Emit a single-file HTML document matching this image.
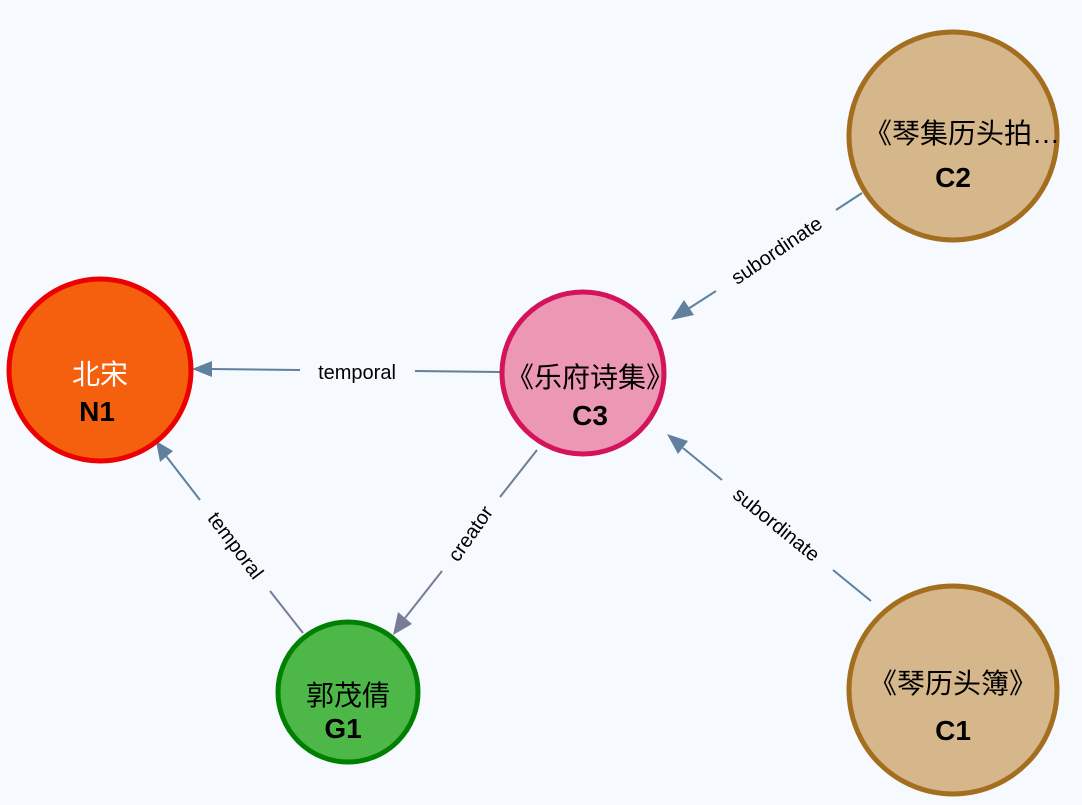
<!DOCTYPE html>
<html><head><meta charset="utf-8">
<style>
html,body{margin:0;padding:0;background:#f6fafe;}
svg{display:block;}
text{font-family:"Liberation Sans","Noto Sans CJK SC",sans-serif;}
</style></head>
<body>
<svg width="1082" height="805" viewBox="0 0 1082 805" xmlns="http://www.w3.org/2000/svg">
<rect width="1082" height="805" fill="#f6fafe"/>
<g stroke-width="2" fill="none">
<line x1="500" y1="372" x2="415" y2="371" stroke="#60809e"/>
<line x1="300" y1="370" x2="212" y2="369" stroke="#60809e"/>
<path d="M212,361 L192,369 L212,377 z" fill="#60809e" stroke="none"/>
<line x1="862" y1="193" x2="836" y2="210" stroke="#60809e"/>
<line x1="716" y1="291" x2="688" y2="309" stroke="#60809e"/>
<path d="M684,300 L671,320 L694,315 z" fill="#60809e" stroke="none"/>
<line x1="871" y1="601" x2="833" y2="570" stroke="#60809e"/>
<line x1="722" y1="480" x2="683" y2="448" stroke="#60809e"/>
<path d="M688,441 L667,434 L678,454 z" fill="#60809e" stroke="none"/>
<line x1="537" y1="450" x2="500" y2="497" stroke="#6c7f90"/>
<line x1="442" y1="571" x2="405" y2="618" stroke="#787c98"/>
<path d="M398,612 L393,635 L412,624 z" fill="#787c98" stroke="none"/>
<line x1="303" y1="633" x2="270" y2="591" stroke="#787c98"/>
<line x1="200" y1="500" x2="166" y2="456" stroke="#60809e"/>
<path d="M160,462 L156,441 L173,451 z" fill="#60809e" stroke="none"/>
</g>
<g font-size="20" fill="#000">
<text x="357" y="379" text-anchor="middle">temporal</text>
<text transform="translate(777,251) rotate(-34)" text-anchor="middle" dy="6">subordinate</text>
<text transform="translate(776,525) rotate(39)" text-anchor="middle" dy="6">subordinate</text>
<text transform="translate(471,534) rotate(-55)" text-anchor="middle" dy="6">creator</text>
<text transform="translate(235,546) rotate(53)" text-anchor="middle" dy="6">temporal</text>
</g>
<circle cx="100" cy="370" r="91" fill="#f5600f" stroke="#ec0000" stroke-width="5"/>
<text x="100" y="384" text-anchor="middle" font-size="28" fill="#fff">北宋</text>
<text x="97" y="421" text-anchor="middle" font-size="28" font-weight="bold">N1</text>

<circle cx="583" cy="373" r="81" fill="#ec97b4" stroke="#d4145a" stroke-width="5"/>
<text x="590" y="387" text-anchor="middle" font-size="28">《乐府诗集》</text>
<text x="590" y="425" text-anchor="middle" font-size="28" font-weight="bold">C3</text>

<circle cx="953" cy="136" r="104" fill="#d6b78b" stroke="#a46e1f" stroke-width="5"/>
<text x="962" y="143" text-anchor="middle" font-size="28">《琴集历头拍…</text>
<text x="953" y="187" text-anchor="middle" font-size="28" font-weight="bold">C2</text>

<circle cx="953" cy="690" r="104" fill="#d6b78b" stroke="#a46e1f" stroke-width="5"/>
<text x="953" y="693" text-anchor="middle" font-size="28">《琴历头簿》</text>
<text x="953" y="740" text-anchor="middle" font-size="28" font-weight="bold">C1</text>

<circle cx="348" cy="692" r="70" fill="#4db848" stroke="#008000" stroke-width="5"/>
<text x="348" y="705" text-anchor="middle" font-size="28">郭茂倩</text>
<text x="343" y="738" text-anchor="middle" font-size="28" font-weight="bold">G1</text>
</svg>
</body></html>
